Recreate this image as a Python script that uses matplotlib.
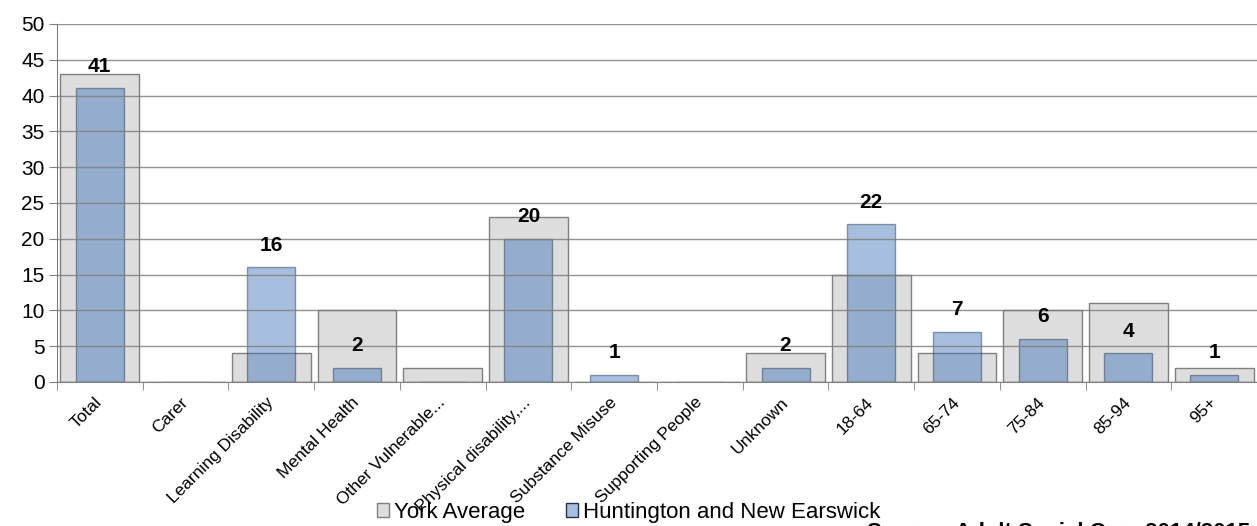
import numpy as np
import matplotlib.pyplot as plt
from matplotlib.patches import Patch

plt.rcParams['font.family'] = ['Liberation Sans', 'DejaVu Sans']

# datos
categorias = ['Total', 'Carer', 'Learning Disability', 'Mental Health', 'Other Vulnerable...',
              'Physical disability,...', 'Substance Misuse', 'Supporting People', 'Unknown',
              '18-64', '65-74', '75-84', '85-94', '95+']
york_media = [43, 0, 4, 10, 2, 23, 0, 0, 4, 15, 4, 10, 11, 2]
huntington = [41, 0, 16, 2, 0, 20, 1, 0, 2, 22, 7, 6, 4, 1]

fig = plt.figure(figsize=(12.57, 5.26), dpi=100)
ax = fig.add_axes([0.0453, 0.2738, 0.9547, 0.6806])

x = np.arange(len(categorias))
ax.bar(x, york_media, width=0.92, color='#dddddd', edgecolor='#808080', linewidth=1, zorder=1)
ax.bar(x, huntington, width=0.56, color='#4477bb', alpha=0.47, edgecolor='#22344f', linewidth=1, zorder=2)

# etiquetas de valor sobre las barras azules
for xi, v in zip(x, huntington):
    if v > 0:
        ax.annotate(str(v), (xi, v), xytext=(0, 16), textcoords='offset points',
                    ha='center', va='center', fontsize=15, fontweight='bold', zorder=5)

ax.set_ylim(0, 50)
ax.set_xlim(-0.5, len(categorias) - 0.5)
ax.set_yticks(range(0, 51, 5))
ax.yaxis.grid(True, color='#7f7f7f', linewidth=1, alpha=0.85)
ax.set_axisbelow(False)
for l in ax.get_ygridlines():
    l.set_zorder(3)

ax.set_xticks(x)
ax.set_xticklabels(categorias, rotation=45, ha='right', va='center', rotation_mode='anchor', fontsize=12.5)
ax.set_xticks(np.arange(-0.5, len(categorias), 1), minor=True)
ax.tick_params(axis='x', which='major', length=0, pad=13)
ax.tick_params(axis='x', which='minor', length=6, color='#808080')
ax.tick_params(axis='y', length=6, color='#808080', labelsize=15, pad=3)

for s in ['top', 'right']:
    ax.spines[s].set_visible(False)
ax.spines['left'].set_color('#808080')
ax.spines['bottom'].set_color('#808080')

handles = [Patch(facecolor='#dddddd', edgecolor='#808080', label='York Average'),
           Patch(facecolor='#a7bfdf', edgecolor='#22344f', label='Huntington and New Earswick')]
fig.legend(handles=handles, loc='center', bbox_to_anchor=(0.5, 0.026), ncol=2, frameon=False,
           fontsize=16, handlelength=0.54, handleheight=0.54, handletextpad=0.22,
           columnspacing=1.85, borderpad=0)

# texto de fuente, cortado en el borde inferior como en el original
fig.text(0.69, 0.007, 'Source: Adult Social Care 2014/2015', fontsize=16, fontweight='bold', va='top')

fig.savefig('out.png', dpi=100)
